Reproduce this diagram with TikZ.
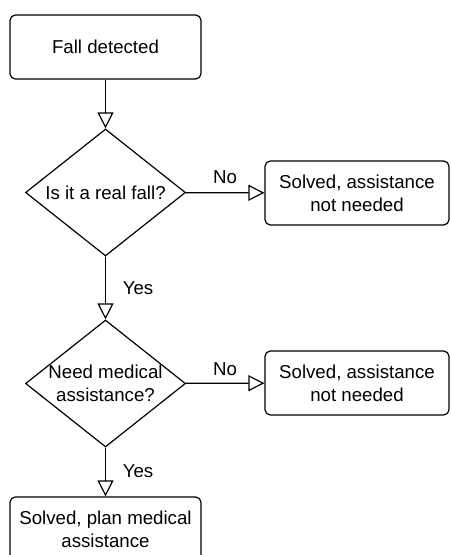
\documentclass[tikz,border=0pt]{standalone}
\usepackage{fontspec}
\setmainfont{Liberation Sans}
\usepackage{tikz}
\usetikzlibrary{arrows.meta,shapes.geometric}

\begin{document}
\begin{tikzpicture}[x=0.75pt, y=-0.75pt,
  box/.style={draw, line width=0.9pt, rounded corners=4pt, align=center, inner sep=0pt},
  decision/.style={draw, line width=0.9pt, diamond, aspect=1.26, align=center, inner sep=-5pt,
    minimum width=120pt, minimum height=95.25pt},
  flow/.style={line width=0.9pt, -{Triangle[open, length=12pt, width=12pt]}}]
\useasboundingbox (0,0) rectangle (450,555);
\fontsize{14}{17}\selectfont

\node [box, minimum width=143.25pt, minimum height=48pt] (fall) at (105.5,47) {Fall detected};
\node [decision] (real) at (105.5,192.5) {Is it a real fall?};
\node [box, minimum width=138pt, minimum height=48pt] (okone) at (357,193) {Solved, assistance\\not needed};
\node [decision] (medic) at (105.5,383.5) {Need medical\\assistance?};
\node [box, minimum width=138pt, minimum height=48pt] (oktwo) at (357,383) {Solved, assistance\\not needed};
\node [box, minimum width=143.25pt, minimum height=48pt] (plan) at (105.5,529) {Solved, plan medical\\assistance};

\draw [flow] (fall) -- (real);
\draw [flow] (real) -- (okone);
\draw [flow] (real) -- (medic);
\draw [flow] (medic) -- (oktwo);
\draw [flow] (medic) -- (plan);

\node (noone) at (225,177) {No};
\node (yesone) at (138,288) {Yes};
\node (notwo) at (225,369) {No};
\node (yestwo) at (138,471) {Yes};
\end{tikzpicture}
\end{document}
